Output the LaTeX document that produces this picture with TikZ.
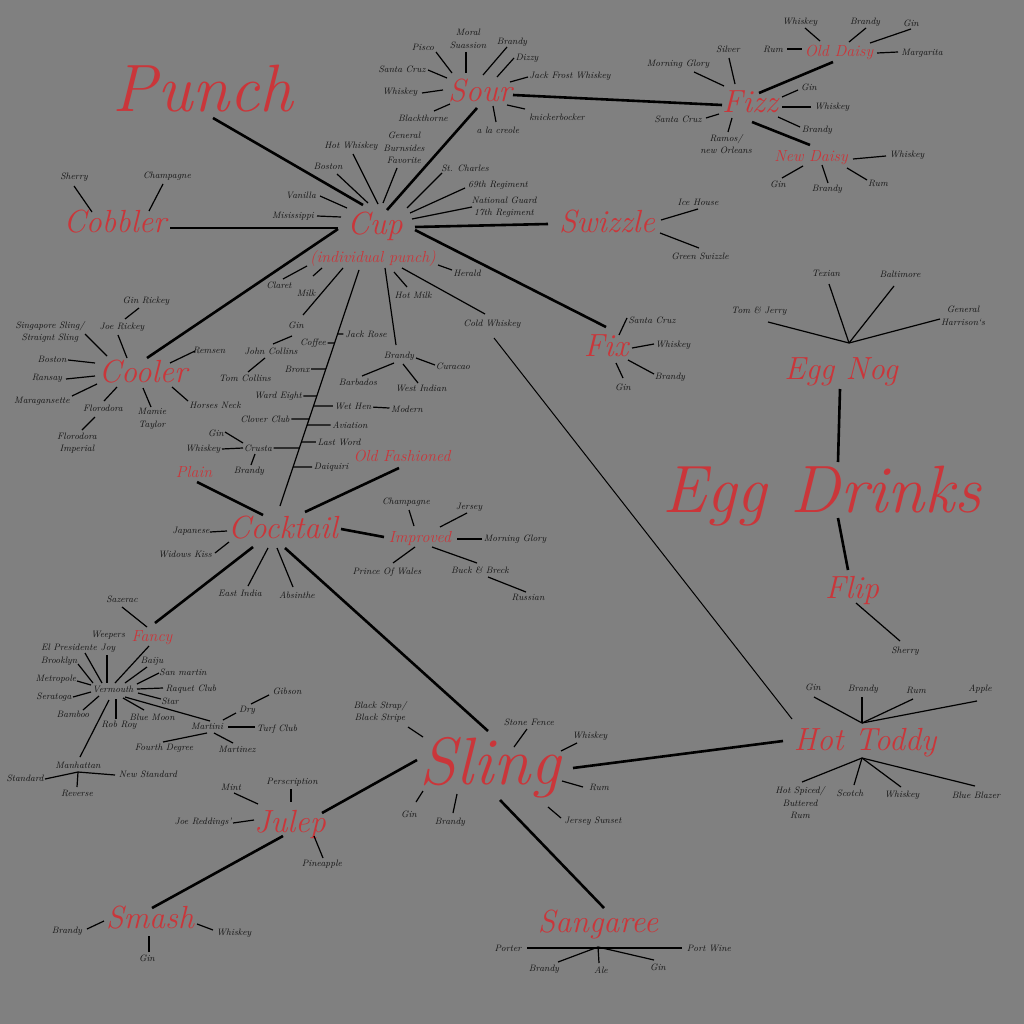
\documentclass[tikz,border=0pt]{standalone}
\usetikzlibrary{calc}
\definecolor{bgc}{RGB}{128,128,128}
\definecolor{redc}{RGB}{202,54,58}
\definecolor{txtc}{RGB}{20,20,20}
\tikzset{
 leaf/.style={font=\fontsize{9.3}{12.5}\selectfont\itshape, text=txtc, inner sep=1.5pt, align=center},
 hub/.style={font=\fontsize{32}{34}\selectfont\itshape, text=redc, inner sep=1pt, anchor=base},
 sub/.style={font=\fontsize{16}{18}\selectfont\itshape, text=redc, inner sep=1pt, anchor=base},
 giant/.style={font=\fontsize{67}{70}\selectfont\itshape, text=redc, inner sep=1pt, anchor=base},
 spoke/.style={draw=black, line width=1.2pt},
 main/.style={draw=black, line width=2.6pt},
 thinln/.style={draw=black, line width=1pt},
}
\newcommand\spk[4]{\draw[spoke] ($(#1)+(#2)$) -- ($(#3)+(#4)$);}
\newcommand\tickL[1]{\draw[spoke] (#1.east) -- (intersection of spineTop--spineBot and #1.west--#1.east);}
\newcommand\tickR[1]{\draw[spoke] (intersection of spineTop--spineBot and #1.west--#1.east) -- (#1.west);}
\begin{document}
\begin{tikzpicture}[x=1pt,y=-1pt]
\fill[bgc] (0,0) rectangle (1024,1024);
\useasboundingbox (0,0) rectangle (1024,1024);
% ---------- main labels
\node[giant] (Punch) at (203,112) {Punch};
\node[giant] (EggDrinks) at (822,512) {Egg Drinks};
\node[giant] (Sling) at (490,784) {Sling};
\node[hub] (Cup) at (375,235) {Cup};
\node[sub] (indiv) at (373,262) {(individual punch)};
\node[hub] (Sour) at (480,102) {Sour};
\node[hub] (Fizz) at (750,113) {Fizz};
\node[sub] (OldDaisy) at (839,57) {Old Daisy};
\node[sub] (NewDaisy) at (811,162) {New Daisy};
\node[hub] (Cobbler) at (115,233) {Cobbler};
\node[hub] (Swizzle) at (607,233) {Swizzle};
\node[hub] (Cooler) at (143,382) {Cooler};
\node[hub] (Fix) at (606,356) {Fix};
\node[hub] (EggNog) at (841,379) {Egg Nog};
\node[hub] (Flip) at (852,598) {Flip};
\node[hub] (Cocktail) at (283,538) {Cocktail};
\node[sub] (Plain) at (194,477) {Plain};
\node[sub] (OldFashioned) at (402,461) {Old Fashioned};
\node[sub] (Improved) at (420,542) {Improved};
\node[sub] (Fancy) at (152,641) {Fancy};
\node[hub] (Julep) at (290,832) {Julep};
\node[hub] (Smash) at (150,928) {Smash};
\node[hub] (Sangaree) at (598,932) {Sangaree};
\node[hub] (HotToddy) at (865,750) {Hot Toddy};
% ---------- Cobbler
\node[leaf] (Sherry) at (74,177) {Sherry};
\node[leaf] (ChampagneCb) at (167,176) {Champagne};
% ---------- Cup
\node[leaf] (HotWhiskey) at (351,146) {Hot Whiskey};
\node[leaf] (GBF) at (404,148) {General\\Burnsides\\Favorite};
\node[leaf] (BostonCu) at (328,166) {Boston};
\node[leaf] (Vanilla) at (301,195) {Vanilla};
\node[leaf] (Misis) at (293,216) {Misissippi};
\node[leaf] (StCharles) at (465,168) {St. Charles};
\node[leaf] (Reg69) at (498,185) {69th Regiment};
\node[leaf] (NatGuard) at (504,207) {National Guard\\17th Regiment};
\node[leaf] (Herald) at (467,273) {Herald};
\node[leaf] (Claret) at (279,285) {Claret};
\node[leaf] (Milk) at (306,293) {Milk};
\node[leaf] (GinCu) at (296,325) {Gin};
\node[leaf] (HotMilk) at (413,295) {Hot Milk};
\node[leaf] (ColdWhiskey) at (492,324) {Cold Whiskey};
\node[leaf] (BrandyCu) at (399,356) {Brandy};
\node[leaf] (JohnCollins) at (271,351) {John Collins};
\node[leaf] (TomCollins) at (245,378) {Tom Collins};
\node[leaf] (Curacao) at (453,366) {Curacao};
\node[leaf] (Barbados) at (358,382) {Barbados};
\node[leaf] (WestIndian) at (421,388) {West Indian};
\node[leaf] (JackRose) at (366,334) {Jack Rose};
\node[leaf] (Coffee) at (313,343) {Coffee};
\node[leaf] (Bronx) at (297,369) {Bronx};
\node[leaf] (WardEight) at (278,396) {Ward Eight};
\node[leaf] (WetHen) at (353,406) {Wet Hen};
\node[leaf] (Modern) at (407,409) {Modern};
\node[leaf] (CloverClub) at (265,419) {Clover Club};
\node[leaf] (Aviation) at (350,425) {Aviation};
\node[leaf] (LastWord) at (339,442) {Last Word};
\node[leaf] (Crusta) at (258,448) {Crusta};
\node[leaf] (Daiquiri) at (331,467) {Daiquiri};
\node[leaf] (GinCr) at (216,433) {Gin};
\node[leaf] (WhiskeyCr) at (203,449) {Whiskey};
\node[leaf] (BrandyCr) at (249,471) {Brandy};
% ---------- Sour
\node[leaf] (Moral) at (468,39) {Moral\\Suassion};
\node[leaf] (Pisco) at (423,47) {Pisco};
\node[leaf] (BrandyS) at (512,42) {Brandy};
\node[leaf] (Dizzy) at (527,58) {Dizzy};
\node[leaf] (SantaCruzS) at (402,69) {Santa Cruz};
\node[leaf] (JackFrost) at (570,76) {Jack Frost Whiskey};
\node[leaf] (WhiskeyS) at (400,92) {Whiskey};
\node[leaf] (Blackthorne) at (423,118) {Blackthorne};
\node[leaf] (ALaCreole) at (498,130) {a la creole};
\node[leaf] (Knicker) at (557,117) {knickerbocker};
% ---------- Fizz
\node[leaf] (Silver) at (728,49) {Silver};
\node[leaf] (MorningGloryF) at (678,64) {Morning Glory};
\node[leaf] (GinF) at (809,87) {Gin};
\node[leaf] (WhiskeyF) at (832,107) {Whiskey};
\node[leaf] (BrandyF) at (817,130) {Brandy};
\node[leaf] (SantaCruzF) at (678,119) {Santa Cruz};
\node[leaf] (Ramos) at (726,144) {Ramos/\\new Orleans};
\node[leaf] (WhiskeyOD) at (800,22) {Whiskey};
\node[leaf] (BrandyOD) at (865,22) {Brandy};
\node[leaf] (GinOD) at (911,23) {Gin};
\node[leaf] (RumOD) at (773,49) {Rum};
\node[leaf] (Margarita) at (922,53) {Margarita};
\node[leaf] (WhiskeyND) at (907,155) {Whiskey};
\node[leaf] (GinND) at (778,184) {Gin};
\node[leaf] (BrandyND) at (827,189) {Brandy};
\node[leaf] (RumND) at (878,183) {Rum};
% ---------- Swizzle, Fix
\node[leaf] (IceHouse) at (698,202) {Ice House};
\node[leaf] (GreenSwizzle) at (700,256) {Green Swizzle};
\node[leaf] (SantaCruzX) at (652,320) {Santa Cruz};
\node[leaf] (WhiskeyX) at (673,345) {Whiskey};
\node[leaf] (BrandyX) at (670,377) {Brandy};
\node[leaf] (GinX) at (623,387) {Gin};
% ---------- Cooler
\node[leaf] (GinRickey) at (146,301) {Gin Rickey};
\node[leaf] (JoeRickey) at (122,327) {Joe Rickey};
\node[leaf] (Singapore) at (50,332) {Singapore Sling/\\Straignt Sling};
\node[leaf] (BostonCo) at (52,359) {Boston};
\node[leaf] (Ransay) at (47,378) {Ransay};
\node[leaf] (Maragansette) at (42,401) {Maragansette};
\node[leaf] (Florodora) at (103,408) {Florodora};
\node[leaf] (FlorodoraImp) at (77,443) {Florodora\\Imperial};
\node[leaf] (Mamie) at (152,419) {Mamie\\Taylor};
\node[leaf] (HorsesNeck) at (215,405) {Horses Neck};
\node[leaf] (Remsen) at (209,350) {Remsen};
% ---------- Cocktail
\node[leaf] (Japanese) at (191,531) {Japanese};
\node[leaf] (WidowsKiss) at (185,554) {Widows Kiss};
\node[leaf] (EastIndia) at (240,593) {East India};
\node[leaf] (Absinthe) at (297,595) {Absinthe};
\node[leaf] (ChampagneI) at (406,502) {Champagne};
\node[leaf] (Jersey) at (469,507) {Jersey};
\node[leaf] (MorningGloryI) at (515,539) {Morning Glory};
\node[leaf] (PrinceOfWales) at (387,572) {Prince Of Wales};
\node[leaf] (BuckBreck) at (480,570) {Buck \& Breck};
\node[leaf] (Russian) at (528,597) {Russian};
% ---------- Fancy
\node[leaf] (Sazerac) at (122,599) {Sazerac};
\node[leaf] (Vermouth) at (113,689) {Vermouth};
\node[leaf] (WeepersJoy) at (108,642) {Weepers\\Joy};
\node[leaf] (ElPresidente) at (69,647) {El Presidente};
\node[leaf] (Brooklyn) at (59,661) {Brooklyn};
\node[leaf] (Metropole) at (56,679) {Metropole};
\node[leaf] (Seratoga) at (54,697) {Seratoga};
\node[leaf] (Bamboo) at (73,714) {Bamboo};
\node[leaf] (Baiju) at (152,661) {Baiju};
\node[leaf] (SanMartin) at (183,672) {San martin};
\node[leaf] (RaquetClub) at (191,689) {Raquet Club};
\node[leaf] (Star) at (170,701) {Star};
\node[leaf] (BlueMoon) at (152,717) {Blue Moon};
\node[leaf] (RobRoy) at (119,725) {Rob Roy};
\node[leaf] (Martini) at (207,726) {Martini};
\node[leaf] (Manhattan) at (78,765) {Manhattan};
\node[leaf] (Dry) at (247,710) {Dry};
\node[leaf] (Gibson) at (287,691) {Gibson};
\node[leaf] (TurfClub) at (277,729) {Turf Club};
\node[leaf] (FourthDegree) at (164,748) {Fourth Degree};
\node[leaf] (Martinez) at (237,749) {Martinez};
\node[leaf] (Standard) at (25,778) {Standard};
\node[leaf] (NewStandard) at (148,774) {New Standard};
\node[leaf] (Reverse) at (77,793) {Reverse};
% ---------- Julep, Smash
\node[leaf] (Mint) at (231,787) {Mint};
\node[leaf] (Perscription) at (292,782) {Perscription};
\node[leaf] (JoeReddings) at (203,822) {Joe Reddings'};
\node[leaf] (Pineapple) at (322,864) {Pineapple};
\node[leaf] (BrandySm) at (67,931) {Brandy};
\node[leaf] (WhiskeySm) at (234,933) {Whiskey};
\node[leaf] (GinSm) at (147,958) {Gin};
% ---------- Sling
\node[leaf] (BlackStrap) at (380,712) {Black Strap/\\Black Stripe};
\node[leaf] (StoneFence) at (529,722) {Stone Fence};
\node[leaf] (WhiskeySl) at (590,736) {Whiskey};
\node[leaf] (RumSl) at (599,787) {Rum};
\node[leaf] (JerseySunset) at (593,821) {Jersey Sunset};
\node[leaf] (GinSl) at (409,814) {Gin};
\node[leaf] (BrandySl) at (450,822) {Brandy};
% ---------- Sangaree
\node[leaf] (Porter) at (508,948) {Porter};
\node[leaf] (PortWine) at (709,948) {Port Wine};
\node[leaf] (BrandySa) at (544,969) {Brandy};
\node[leaf] (Ale) at (601,970) {Ale};
\node[leaf] (GinSa) at (658,967) {Gin};
% ---------- Hot Toddy
\node[leaf] (GinH) at (813,687) {Gin};
\node[leaf] (BrandyH) at (863,689) {Brandy};
\node[leaf] (RumH) at (916,690) {Rum};
\node[leaf] (Apple) at (980,689) {Apple};
\node[leaf] (HotSpiced) at (800,803) {Hot Spiced/\\Buttered\\Rum};
\node[leaf] (Scotch) at (850,793) {Scotch};
\node[leaf] (WhiskeyH) at (902,795) {Whiskey};
\node[leaf] (BlueBlazer) at (976,795) {Blue Blazer};
% ---------- Egg Nog, Flip
\node[leaf] (TomJerry) at (759,311) {Tom \& Jerry};
\node[leaf] (Texian) at (826,273) {Texian};
\node[leaf] (Baltimore) at (900,274) {Baltimore};
\node[leaf] (GenHarrison) at (963,316) {General\\Harrison`s};
\node[leaf] (SherryF) at (905,651) {Sherry};
% ---------- hub points
\coordinate (spineTop) at ($(indiv.base)+(-14,8)$);
\coordinate (spineBot) at ($(Cocktail.base)+(-3,-32)$);
\coordinate (htTop) at ($(HotToddy.base)+(-3,-27)$);
\coordinate (htBot) at ($(HotToddy.base)+(-3,8)$);
\coordinate (sgHub) at ($(Sangaree.base)+(0,15)$);
\coordinate (enHub) at ($(EggNog.base)+(8,-36)$);
\coordinate (mhHub) at ($(Manhattan)+(0,7)$);
% ---------- main connectors
\draw[main] ($(Punch.base)+(10,6)$) -- ($(Cup.base)+(-12,-30)$);
\draw[main] ($(Cobbler.base)+(55,-5)$) -- ($(Cup.base)+(-37,-7)$);
\draw[main] ($(Cup.base)+(12,-25)$) -- ($(Sour.base)+(-3,6)$);
\draw[main] ($(Cup.base)+(40,-8)$) -- ($(Swizzle.base)+(-59,-9)$);
\draw[main] ($(Cup.base)+(40,-5)$) -- ($(Fix.base)+(0,-29)$);
\draw[main] ($(Cup.base)+(-37,-6)$) -- ($(Cooler.base)+(4,-24)$);
\draw[main] ($(Sour.base)+(33,-7)$) -- ($(Fizz.base)+(-28,-8)$);
\draw[main] ($(Fizz.base)+(9,-20)$) -- ($(OldDaisy.base)+(-6,5)$);
\draw[main] ($(Fizz.base)+(2,9)$) -- ($(NewDaisy.base)+(-1,-17)$);
\draw[main] ($(EggNog.base)+(-1,10)$) -- ($(EggDrinks.base)+(16,-50)$);
\draw[main] ($(EggDrinks.base)+(16,6)$) -- ($(Flip.base)+(-4,-28)$);
\spk{Flip.base}{4,5}{SherryF}{-5,-10}
\draw[main] ($(Plain.base)+(3,5)$) -- ($(Cocktail.base)+(-20,-23)$);
\draw[main] ($(OldFashioned.base)+(-3,7)$) -- ($(Cocktail.base)+(22,-26)$);
\draw[main] ($(Cocktail.base)+(58,-9)$) -- ($(Improved.base)+(-36,-5)$);
\draw[main] ($(Cocktail.base)+(-30,9)$) -- ($(Fancy.base)+(3,-18)$);
\draw[main] ($(Cocktail.base)+(2,10)$) -- ($(Sling.base)+(-2,-53)$);
\draw[main] ($(Sling.base)+(-73,-24)$) -- ($(Julep.base)+(32,-19)$);
\draw[main] ($(Julep.base)+(-7,4)$) -- ($(Smash.base)+(2,-20)$);
\draw[main] ($(Sling.base)+(10,16)$) -- ($(Sangaree.base)+(6,-24)$);
\draw[main] ($(Sling.base)+(83,-16)$) -- ($(HotToddy.base)+(-82,-9)$);
\draw[thinln] ($(ColdWhiskey)+(2,14)$) -- ($(HotToddy.base)+(-73,-31)$);
\draw[spoke] (spineTop) -- (spineBot);
% ---------- Cobbler spokes
\spk{Sherry}{0,9}{Cobbler.base}{-23,-21}
\spk{ChampagneCb}{-4,8}{Cobbler.base}{34,-22}
% ---------- Cup spokes
\spk{HotWhiskey}{2,8}{Cup.base}{3,-31}
\spk{GBF}{-7,20}{Cup.base}{8,-32}
\spk{BostonCu}{9,8}{Cup.base}{-7,-32}
\spk{Vanilla}{19,1}{Cup.base}{-28,-27}
\spk{Misis}{24,0}{Cup.base}{-34,-18}
\spk{StCharles}{-23,5}{Cup.base}{32,-27}
\spk{Reg69}{-33,3}{Cup.base}{35,-22}
\spk{NatGuard}{-32,0}{Cup.base}{37,-16}
\spk{Herald}{-15,-3}{indiv.base}{65,3}
\spk{Claret}{4,-6}{indiv.base}{-66,4}
\spk{Milk}{7,-17}{indiv.base}{-51,6}
\spk{GinCu}{7,-10}{indiv.base}{-30,6}
\spk{HotMilk}{-6,-8}{indiv.base}{21,10}
\spk{BrandyCu}{-3,-11}{indiv.base}{12,6}
\spk{ColdWhiskey}{-7,-10}{indiv.base}{29,6}
\spk{GinCu}{-4,11}{JohnCollins}{2,-7}
\spk{JohnCollins}{-6,7}{TomCollins}{3,-6}
\spk{BrandyCu}{17,2}{Curacao}{-18,-1}
\spk{BrandyCu}{-5,7}{Barbados}{4,-6}
\spk{BrandyCu}{4,8}{WestIndian}{-3,-5}
\tickR{JackRose}
\tickL{Coffee}
\tickL{Bronx}
\tickL{WardEight}
\tickR{WetHen}
\draw[spoke] (WetHen) -- (Modern);
\tickL{CloverClub}
\tickR{Aviation}
\tickR{LastWord}
\tickL{Crusta}
\tickR{Daiquiri}
\spk{GinCr}{9,-1}{Crusta}{-15,-5}
\spk{WhiskeyCr}{19,0}{Crusta}{-15,0}
\spk{BrandyCr}{2,-6}{Crusta}{-3,6}
% ---------- Sour spokes
\spk{Moral}{-2,13}{Sour.base}{-14,-29}
\spk{Pisco}{13,5}{Sour.base}{-28,-29}
\spk{BrandyS}{-5,5}{Sour.base}{3,-27}
\spk{Dizzy}{-13,0}{Sour.base}{17,-25}
\spk{SantaCruzS}{26,1}{Sour.base}{-33,-24}
\spk{JackFrost}{-42,1}{Sour.base}{30,-20}
\spk{WhiskeyS}{22,1}{Sour.base}{-37,-12}
\spk{Blackthorne}{11,-7}{Sour.base}{-30,2}
\spk{ALaCreole}{-2,-8}{Sour.base}{13,4}
\spk{Knicker}{-32,-8}{Sour.base}{27,3}
% ---------- Fizz spokes
\spk{Silver}{1,9}{Fizz.base}{-15,-29}
\spk{MorningGloryF}{16,8}{Fizz.base}{-26,-27}
\spk{GinF}{-11,3}{Fizz.base}{32,-16}
\spk{WhiskeyF}{-21,0}{Fizz.base}{32,-6}
\spk{BrandyF}{-17,-3}{Fizz.base}{28,4}
\spk{SantaCruzF}{28,-1}{Fizz.base}{-31,1}
\spk{Ramos}{2,-12}{Fizz.base}{-18,5}
\spk{WhiskeyOD}{5,6}{OldDaisy.base}{-19,-16}
\spk{BrandyOD}{1,6}{OldDaisy.base}{10,-15}
\spk{GinOD}{0,6}{OldDaisy.base}{31,-14}
\spk{RumOD}{14,0}{OldDaisy.base}{-37,-8}
\spk{Margarita}{-24,-1}{OldDaisy.base}{38,-4}
\spk{WhiskeyND}{-21,1}{NewDaisy.base}{42,-3}
\spk{GinND}{4,-6}{NewDaisy.base}{-8,4}
\spk{BrandyND}{1,-6}{NewDaisy.base}{11,3}
\spk{RumND}{-11,-3}{NewDaisy.base}{36,6}
% ---------- Swizzle, Fix spokes
\spk{IceHouse}{0,7}{Swizzle.base}{54,-13}
\spk{GreenSwizzle}{-1,-8}{Swizzle.base}{53,0}
\spk{SantaCruzX}{-25,-2}{Fix.base}{13,-21}
\spk{WhiskeyX}{-19,-1}{Fix.base}{26,-8}
\spk{BrandyX}{-16,-3}{Fix.base}{22,4}
\spk{GinX}{0,-9}{Fix.base}{10,7}
% ---------- Cooler spokes
\spk{GinRickey}{-7,7}{JoeRickey}{3,-8}
\spk{JoeRickey}{-4,8}{Cooler.base}{-16,-24}
\spk{Singapore}{35,2}{Cooler.base}{-36,-26}
\spk{BostonCo}{16,1}{Cooler.base}{-48,-19}
\spk{Ransay}{19,1}{Cooler.base}{-48,-6}
\spk{Maragansette}{30,-5}{Cooler.base}{-46,2}
\spk{Florodora}{1,-7}{Cooler.base}{-26,5}
\spk{Florodora}{-8,9}{FlorodoraImp}{5,-13}
\spk{Mamie}{-1,-12}{Cooler.base}{0,6}
\spk{HorsesNeck}{-27,-4}{Cooler.base}{29,5}
\spk{Remsen}{-14,1}{Cooler.base}{27,-19}
% ---------- Cocktail spokes
\spk{Japanese}{19,1}{Cocktail.base}{-56,-7}
\spk{WidowsKiss}{30,-1}{Cocktail.base}{-54,4}
\spk{EastIndia}{8,-7}{Cocktail.base}{-15,10}
\spk{Absinthe}{-4,-8}{Cocktail.base}{-6,10}
\spk{ChampagneI}{3,8}{Improved.base}{-6,-16}
\spk{Jersey}{-2,6}{Improved.base}{20,-15}
\spk{MorningGloryI}{-33,0}{Improved.base}{37,-3}
\spk{PrinceOfWales}{6,-9}{Improved.base}{-5,5}
\spk{BuckBreck}{-3,-7}{Improved.base}{12,5}
\spk{BuckBreck}{8,7}{Russian}{-2,-5}
% ---------- Fancy / Vermouth
\spk{Sazerac}{0,8}{Fancy.base}{-5,-14}
\spk{Fancy.base}{-3,5}{Vermouth}{2,-6}
\spk{WeepersJoy}{-1,13}{Vermouth}{-6,-6}
\spk{ElPresidente}{16,6}{Vermouth}{-11,-6}
\spk{Brooklyn}{19,3}{Vermouth}{-20,-6}
\spk{Metropole}{21,2}{Vermouth}{-22,-4}
\spk{Seratoga}{19,0}{Vermouth}{-22,3}
\spk{Bamboo}{10,-4}{Vermouth}{-14,7}
\spk{Baiju}{-5,6}{Vermouth}{12,-6}
\spk{SanMartin}{-24,1}{Vermouth}{24,-5}
\spk{RaquetClub}{-28,-1}{Vermouth}{24,0}
\spk{Star}{-9,-2}{Vermouth}{25,4}
\spk{BlueMoon}{-8,-7}{Vermouth}{10,9}
\spk{RobRoy}{-3,-6}{Vermouth}{3,10}
\spk{Martini}{3,-5}{Vermouth}{12,8}
\spk{Manhattan}{2,-8}{Vermouth}{-4,11}
\spk{Dry}{-11,3}{Martini}{16,-6}
\spk{Dry}{4,-6}{Gibson}{-18,4}
\spk{TurfClub}{-22,-2}{Martini}{21,1}
\spk{FourthDegree}{-1,-6}{Martini}{0,7}
\spk{Martinez}{-4,-6}{Martini}{7,7}
\spk{Standard}{20,1}{mhHub}{0,0}
\spk{NewStandard}{-33,1}{mhHub}{0,0}
\spk{Reverse}{0,-6}{mhHub}{0,0}
% ---------- Julep, Smash
\spk{Mint}{3,6}{Julep.base}{-32,-28}
\spk{Perscription}{-1,7}{Julep.base}{1,-30}
\spk{JoeReddings}{30,1}{Julep.base}{-36,-12}
\spk{Pineapple}{1,-6}{Julep.base}{24,4}
\spk{BrandySm}{20,-2}{Smash.base}{-46,-7}
\spk{WhiskeySm}{-21,-3}{Smash.base}{47,-4}
\spk{GinSm}{2,-6}{Smash.base}{-1,8}
% ---------- Sling
\spk{BlackStrap}{28,15}{Sling.base}{-67,-47}
\spk{StoneFence}{-2,7}{Sling.base}{24,-37}
\spk{WhiskeySl}{-13,7}{Sling.base}{71,-33}
\spk{RumSl}{-16,0}{Sling.base}{72,-3}
\spk{JerseySunset}{-32,-3}{Sling.base}{58,23}
\spk{GinSl}{7,-12}{Sling.base}{-67,7}
\spk{BrandySl}{3,-9}{Sling.base}{-33,10}
% ---------- Sangaree
\spk{Porter}{19,0}{PortWine}{-27,0}
\spk{BrandySa}{14,-7}{sgHub}{0,0}
\spk{Ale}{-2,-7}{sgHub}{0,0}
\spk{GinSa}{-4,-7}{sgHub}{0,0}
% ---------- Hot Toddy
\spk{GinH}{1,10}{htTop}{0,0}
\spk{BrandyH}{-1,8}{htTop}{0,0}
\spk{RumH}{-3,9}{htTop}{0,0}
\spk{Apple}{-3,12}{htTop}{0,0}
\spk{HotSpiced}{2,-21}{htBot}{0,0}
\spk{Scotch}{4,-8}{htBot}{0,0}
\spk{WhiskeyH}{-1,-8}{htBot}{0,0}
\spk{BlueBlazer}{-1,-9}{htBot}{0,0}
% ---------- Egg Nog
\spk{TomJerry}{9,11}{enHub}{0,0}
\spk{Texian}{3,11}{enHub}{0,0}
\spk{Baltimore}{-6,12}{enHub}{0,0}
\spk{GenHarrison}{-23,3}{enHub}{0,0}
\end{tikzpicture}
\end{document}
